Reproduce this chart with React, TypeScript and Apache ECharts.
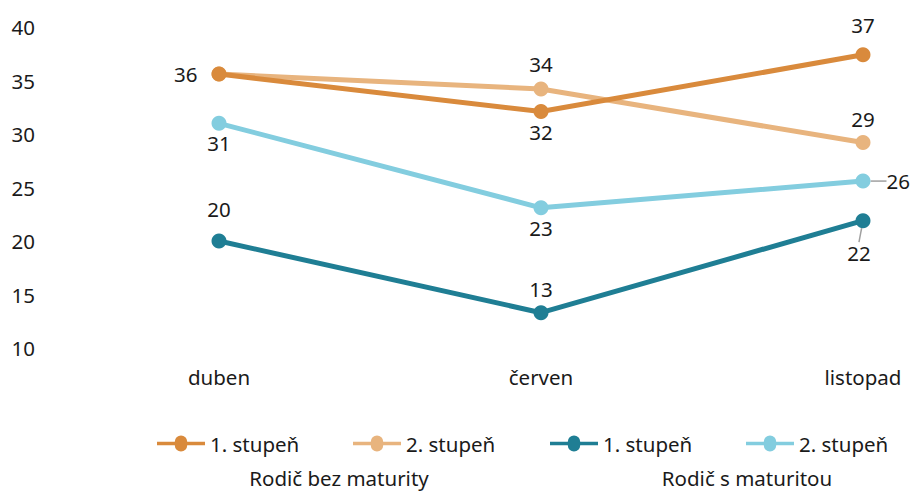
import React, { useEffect, useRef } from "react";
import * as echarts from "echarts";

const categories = ["duben", "červen", "listopad"];
const bezMat1 = [35.6, 32.1, 37.4];
const bezMat2 = [35.6, 34.2, 29.2];
const sMat1 = [20.0, 13.3, 21.9];
const sMat2 = [31.0, 23.1, 25.6];
const legendNames = ["1. stupeň", "2. stupeň", "1. stupeň", "2. stupeň"];
const groupLabels = ["Rodič bez maturity", "Rodič s maturitou"];

const FONT = "Noto Sans";
const FS = 20.5;
const colors = ["#D98A3C", "#E8B47E", "#1F7E94", "#83CDDF"];

export default function App() {
  const ref = useRef<HTMLDivElement>(null);
  useEffect(() => {
    const chart = echarts.init(ref.current!, undefined, { renderer: "svg" });
    const ids = ["b1", "b2", "s1", "s2"];
    const datas = [bezMat1, bezMat2, sMat1, sMat2];
    // label configs per series per point: [position, dx, show, distance]
    const labelCfg: any[][] = [
      [["left", 0, true, 14], ["bottom", -5, true, 2], ["top", 0, true, 12]],
      [["left", 0, false, 10], ["top", -8, true, 7], ["top", 0, true, 6]],
      [["top", 0, true, 14], ["top", -6, true, 6], ["bottom", -6, true, 6]],
      [["bottom", -11, true, 2], ["bottom", -5, true, 2], ["right", 10, true, 6]],
    ];
    const labelFont = { fontFamily: FONT, fontSize: FS, color: "#1a1a1a" };
    const series = datas.map((d, si) => ({
      type: "line",
      name: ids[si],
      data: d.map((v, i) => {
        const c = labelCfg[si][i];
        const item: any = {
          value: v,
          label: {
            show: c[2],
            position: c[0],
            distance: c[3],
            offset: [c[1], 0],
          },
        };
        if ((si === 3 || si === 2) && i === 2) {
          item.labelLine = { show: true, lineStyle: { color: "#a0a0a0", width: 1.5 } };
        }
        return item;
      }),
      symbol: "circle",
      symbolSize: 15,
      lineStyle: { color: colors[si], width: 5 },
      itemStyle: { color: colors[si] },
      label: {
        ...labelFont,
        formatter: (p: any) => String(Math.round(p.value)),
      },
      labelLayout: (p: any) => {
        if (si === 3 && p.dataIndex === 2) return { dx: 10 };
        if (si === 2 && p.dataIndex === 2) return { dx: -4, dy: 8 };
        return {};
      },
      z: [2, 1, 3, 3][si],
    }));

    const legendLefts = [152, 348, 545, 741];
    const legends = ids.map((id, i) => ({
      data: [{ name: id, icon: "path://M0,5.5 L20,5.5 A7,7 0 1 1 34,5.5 L54,5.5 L54,9.5 L34,9.5 A7,7 0 1 1 20,9.5 L0,9.5 Z" }],
      left: legendLefts[i],
      top: 428,
      itemWidth: 56,
      itemHeight: 16,
      itemGap: 0,
      selectedMode: false,
      formatter: () => legendNames[i],
      textStyle: { fontFamily: FONT, fontSize: FS, color: "#1a1a1a", padding: [0, 0, 0, -4] },
    }));

    chart.setOption({
      animation: false,
      backgroundColor: "#ffffff",
      grid: { left: 219, right: 52, top: 27, bottom: 144 },
      xAxis: {
        type: "category",
        data: categories,
        boundaryGap: false,
        axisLine: { show: false },
        axisTick: { show: false },
        axisLabel: { fontFamily: FONT, fontSize: FS, color: "#1a1a1a", margin: 18 },
      },
      yAxis: {
        type: "value",
        min: 10,
        max: 40,
        interval: 5,
        splitLine: { show: false },
        axisLine: { show: false },
        axisLabel: { fontFamily: FONT, fontSize: FS, color: "#1a1a1a", margin: 184, align: "right" },
      },
      legend: legends,
      title: [
        { text: groupLabels[0], left: 334, top: 462, textAlign: "center",
          textStyle: { fontFamily: FONT, fontSize: FS, fontWeight: "normal", color: "#1a1a1a" } },
        { text: groupLabels[1], left: 742, top: 462, textAlign: "center",
          textStyle: { fontFamily: FONT, fontSize: FS, fontWeight: "normal", color: "#1a1a1a" } },
      ],
      series,
    });
    return () => chart.dispose();
  }, []);
  return <div ref={ref} style={{ width: 915, height: 492, position: "absolute", left: 0, top: 0 }} />;
}
